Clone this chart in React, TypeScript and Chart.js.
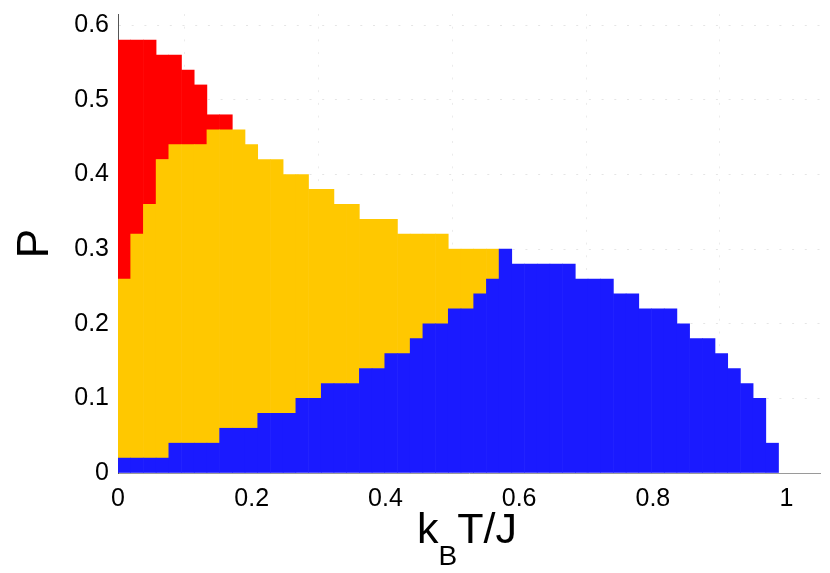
import React, { useEffect, useRef } from 'react';
import { Chart, registerables } from 'chart.js';

Chart.register(...registerables);

// Column centres of k_B T / J (each column is 0.019 wide)
const temperatures = [
  0.0095, 0.0285, 0.0475, 0.0665, 0.0855, 0.1045, 0.1235, 0.1425, 0.1615, 0.1805,
  0.1995, 0.2185, 0.2375, 0.2565, 0.2755, 0.2945, 0.3135, 0.3325, 0.3515, 0.3705,
  0.3895, 0.4085, 0.4275, 0.4465, 0.4655, 0.4845, 0.5035, 0.5225, 0.5415, 0.5605,
  0.5795, 0.5985, 0.6175, 0.6365, 0.6555, 0.6745, 0.6935, 0.7125, 0.7315, 0.7505,
  0.7695, 0.7885, 0.8075, 0.8265, 0.8455, 0.8645, 0.8835, 0.9025, 0.9215, 0.9405,
  0.9595, 0.9785,
];

// Upper boundary of the blue phase (from P = 0)
const blueTop = [
  0.02, 0.02, 0.02, 0.02, 0.04, 0.04, 0.04, 0.04, 0.06, 0.06,
  0.06, 0.08, 0.08, 0.08, 0.10, 0.10, 0.12, 0.12, 0.12, 0.14,
  0.14, 0.16, 0.16, 0.18, 0.20, 0.20, 0.22, 0.22, 0.24, 0.26,
  0.30, 0.28, 0.28, 0.28, 0.28, 0.28, 0.26, 0.26, 0.26, 0.24,
  0.24, 0.22, 0.22, 0.22, 0.20, 0.18, 0.18, 0.16, 0.14, 0.12,
  0.10, 0.04,
];

// Upper boundary of the yellow phase (from blueTop)
const yellowTop: (number | null)[] = [
  0.26, 0.32, 0.36, 0.42, 0.44, 0.44, 0.44, 0.46, 0.46, 0.46,
  0.44, 0.42, 0.42, 0.40, 0.40, 0.38, 0.38, 0.36, 0.36, 0.34,
  0.34, 0.34, 0.32, 0.32, 0.32, 0.32, 0.30, 0.30, 0.30, 0.30,
  null, null, null, null, null, null, null, null, null, null,
  null, null, null, null, null, null, null, null, null, null,
  null, null,
];

// Upper boundary of the red phase (from yellowTop)
const redTop: (number | null)[] = [
  0.58, 0.58, 0.58, 0.56, 0.56, 0.54, 0.52, 0.48, 0.48,
];

const xTicks = [0, 0.2, 0.4, 0.6, 0.8, 1];
const yTicks = [0, 0.1, 0.2, 0.3, 0.4, 0.5, 0.6];
const yTitle = 'P';
const xTitleMain = 'k';
const xTitleSub = 'B';
const xTitleRest = 'T/J';

const FONT = '"Liberation Sans", Arial, Helvetica, sans-serif';

const fmt = (v: number) => String(Number(v.toFixed(2)));

const titlePlugin = {
  id: 'axisTitles',
  afterDraw(chart: any) {
    const { ctx, chartArea } = chart;
    ctx.save();
    ctx.fillStyle = '#000';
    ctx.font = `44px ${FONT}`;
    ctx.textAlign = 'center';
    ctx.textBaseline = 'alphabetic';
    ctx.translate(48, (chartArea.top + chartArea.bottom) / 2);
    ctx.rotate(-Math.PI / 2);
    ctx.fillText(yTitle, 0, 0);
    ctx.restore();

    ctx.save();
    ctx.fillStyle = '#000';
    ctx.textAlign = 'left';
    ctx.textBaseline = 'alphabetic';
    const mainFont = `43px ${FONT}`;
    const subFont = `28px ${FONT}`;
    ctx.font = mainFont;
    const w1 = ctx.measureText(xTitleMain).width;
    const w3 = ctx.measureText(xTitleRest).width;
    ctx.font = subFont;
    const w2 = ctx.measureText(xTitleSub).width;
    const total = w1 + w2 + w3;
    const cx = (chartArea.left + chartArea.right) / 2 - 2;
    const baseY = chartArea.bottom + 70;
    let x = cx - total / 2;
    ctx.font = mainFont;
    ctx.fillText(xTitleMain, x, baseY);
    x += w1;
    ctx.font = subFont;
    ctx.fillText(xTitleSub, x, baseY + 22);
    x += w2;
    ctx.font = mainFont;
    ctx.fillText(xTitleRest, x, baseY);
    ctx.restore();
  },
};

export default function App() {
  const canvasRef = useRef<HTMLCanvasElement | null>(null);

  useEffect(() => {
    if (!canvasRef.current) return;
    const blueData = temperatures.map((t, i) => ({ x: t, y: [0, blueTop[i]] }));
    const yellowData = temperatures.map((t, i) => ({
      x: t,
      y: yellowTop[i] != null ? [blueTop[i], yellowTop[i] as number] : null,
    }));
    const redData = temperatures.map((t, i) => ({
      x: t,
      y: redTop[i] != null && yellowTop[i] != null ? [yellowTop[i] as number, redTop[i] as number] : null,
    }));

    const common = {
      grouped: false,
      barPercentage: 1,
      categoryPercentage: 1,
      borderWidth: 0,
      inflateAmount: 0.3,
    };

    const chart = new Chart(canvasRef.current, {
      type: 'bar',
      data: {
        datasets: [
          { label: 'blue', data: blueData as any, backgroundColor: '#1a1aff', ...common },
          { label: 'yellow', data: yellowData as any, backgroundColor: '#ffc800', ...common },
          { label: 'red', data: redData as any, backgroundColor: '#ff0000', ...common },
        ],
      },
      options: {
        animation: false,
        responsive: false,
        maintainAspectRatio: false,
        events: [],
        layout: { padding: { left: 0, right: 10, top: 14, bottom: 0 } },
        plugins: {
          legend: { display: false },
          tooltip: { enabled: false },
        },
        scales: {
          x: {
            type: 'linear',
            min: 0,
            max: 1.05,
            offset: false,
            afterBuildTicks: (scale: any) => {
              scale.ticks = xTicks.map((v) => ({ value: v }));
            },
            afterFit: (scale: any) => {
              scale.height = 100;
              scale.paddingLeft = 0;
              scale.paddingRight = 0;
            },
            grid: {
              display: true,
              drawTicks: false,
              color: 'rgba(0,0,0,0.08)',
              lineWidth: 1,
            },
            border: { display: true, color: '#9a9a9a', width: 1, dash: [2, 10.7] },
            ticks: {
              padding: 11,
              color: '#000',
              font: { family: FONT, size: 25 },
              maxRotation: 0,
              autoSkip: false,
              callback: (v: any) => fmt(Number(v)),
            },
          },
          y: {
            type: 'linear',
            min: 0,
            max: 0.615,
            afterBuildTicks: (scale: any) => {
              scale.ticks = yTicks.map((v) => ({ value: v }));
            },
            afterFit: (scale: any) => {
              scale.width = 118;
              scale.paddingTop = 0;
              scale.paddingBottom = 0;
            },
            grid: {
              display: true,
              drawTicks: false,
              color: 'rgba(0,0,0,0.1)',
              lineWidth: 1,
            },
            border: { display: true, color: '#555', width: 1, dash: [2, 10.7] },
            ticks: {
              padding: 9,
              color: '#000',
              font: { family: FONT, size: 25 },
              autoSkip: false,
              callback: (v: any) => fmt(Number(v)),
            },
          },
        },
      } as any,
      plugins: [titlePlugin],
    });
    return () => chart.destroy();
  }, []);

  return (
    <div style={{ position: 'absolute', left: 0, top: 0, width: 830, height: 573, background: '#fff' }}>
      <canvas ref={canvasRef} width={830} height={573} style={{ display: 'block' }} />
    </div>
  );
}
